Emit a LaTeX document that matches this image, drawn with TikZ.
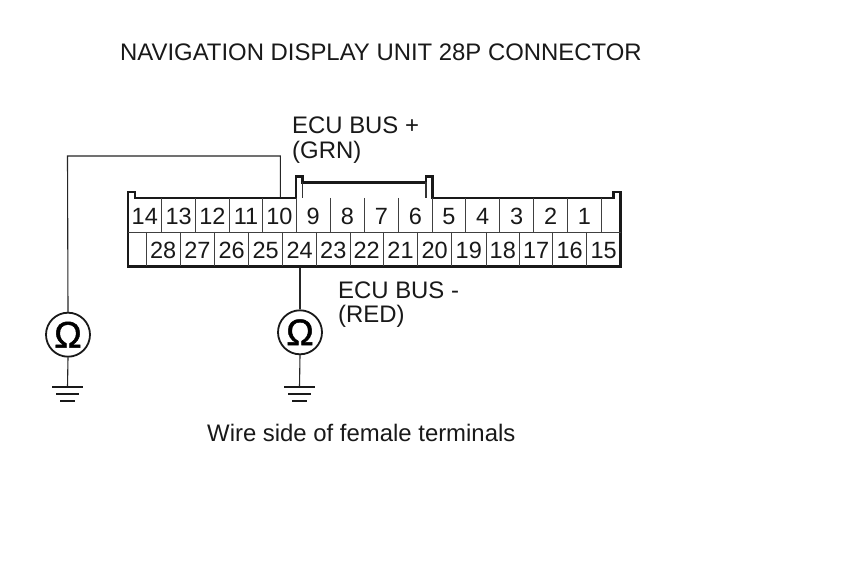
\documentclass[tikz,border=0pt]{standalone}
\usepackage{fontspec}
\setmainfont{Liberation Sans}
\newfontfamily\ohmfont[FakeBold=1.3]{Liberation Sans}
\tikzset{
  label text/.style={anchor=base west,inner sep=0pt,font=\fontsize{23.9}{26}\selectfont,text=black!90},
  pin text/.style={anchor=base,inner sep=0pt,font=\fontsize{23.5}{26}\selectfont,text=black!90},
  outline/.style={line width=2.8pt,line join=miter,black!90},
  divider/.style={line width=0.9pt,black!75},
  wire/.style={line width=1.1pt,black!85},
  meter/.style={circle,draw=black!90,line width=1.8pt,minimum size=44pt,inner sep=0pt,font=\fontsize{37}{37}\ohmfont\selectfont},
  gnd/.style={line width=2.2pt,black!90},
}
\begin{document}
\begin{tikzpicture}[x=1pt,y=-1pt]
\useasboundingbox[fill=white] (0,0) rectangle (860,580);
% outline
\draw[outline] (135,198) -- (135,192) -- (128,192) -- (128,266.5) -- (620.5,266.5) -- (620.5,192) -- (613.5,192) -- (613.5,198) -- (432.5,198) -- (432.5,176.5) -- (426,176.5) -- (426,182.5) -- (302.5,182.5) -- (302.5,176.5) -- (296,176.5) -- (296,198) -- cycle;
\draw[line width=1.6pt,black!80] (302.5,182.5) -- (302.5,198);
\draw[line width=1.6pt,black!80] (426,182.5) -- (426,198);
% row divider
\draw[divider] (128,232) -- (620.5,232);
% top dividers
\foreach \x in {161.7,195.7,229.3,262.7,296,330.3,364.3,398.7,432.3,465.7,499.7,533.7,567.7,601.3}
  \draw[divider] (\x,198) -- (\x,232);
% bottom dividers
\foreach \x in {146,180.3,214.7,248.7,282.7,316.7,350,383.3,417.7,451.7,486,519.7,552.7,586.7}
  \draw[divider] (\x,232) -- (\x,266.5);
% top row numbers
\foreach \n/\x in {14/144.8,13/178.7,12/212.5,11/246,10/279.5,9/313.2,8/347.3,7/381.5,6/415.5,5/449,4/482.7,3/516.7,2/550.7,1/584.5}
  \node[pin text] (p\n) at (\x,224.5) {\n};
% bottom row numbers
\foreach \n/\x in {28/163.2,27/197.5,26/231.7,25/265.7,24/299.7,23/333.3,22/366.7,21/400.5,20/434.7,19/468.8,18/502.8,17/536.2,16/569.7,15/603.7}
  \node[pin text] (p\n) at (\x,258.3) {\n};
% labels
\node[label text] (title) at (120,61) {NAVIGATION DISPLAY UNIT 28P CONNECTOR};
\node[label text] (busp) at (292,134) {ECU BUS +};
\node[label text] (grn) at (292,158.5) {(GRN)};
\node[label text] (busm) at (338,298.5) {ECU BUS -};
\node[label text] (red) at (338,322.5) {(RED)};
\node[label text] (side) at (207,441) {Wire side of female terminals};
% meters
\node[meter] (ohmA) at (68,334.7) {Ω};
\node[meter] (ohmB) at (300,332.3) {Ω};
% wiring
\coordinate (termA) at (280.3,197);
\coordinate (turnA) at (280.3,156);
\coordinate (cornerA) at (67.5,156);
\coordinate (termB) at (300,268);
\coordinate (gndA) at (67.5,387);
\coordinate (gndB) at (299.5,387);
\draw[wire] (termA) -- (turnA) -- (cornerA) -- (ohmA.north);
\draw[wire] (termB) -- (ohmB.north);
\draw[wire] (ohmA.south) -- (gndA);
\draw[wire] (ohmB.south) -- (gndB);
% grounds
\foreach \g in {gndA,gndB}{
  \draw[gnd,line width=2.6pt] ([xshift=-15.5pt]\g) -- ([xshift=15.5pt]\g);
  \draw[gnd] ([xshift=-11.5pt,yshift=-7pt]\g) -- ([xshift=11.5pt,yshift=-7pt]\g);
  \draw[gnd] ([xshift=-7.5pt,yshift=-14pt]\g) -- ([xshift=7.5pt,yshift=-14pt]\g);
}
\end{tikzpicture}
\end{document}
